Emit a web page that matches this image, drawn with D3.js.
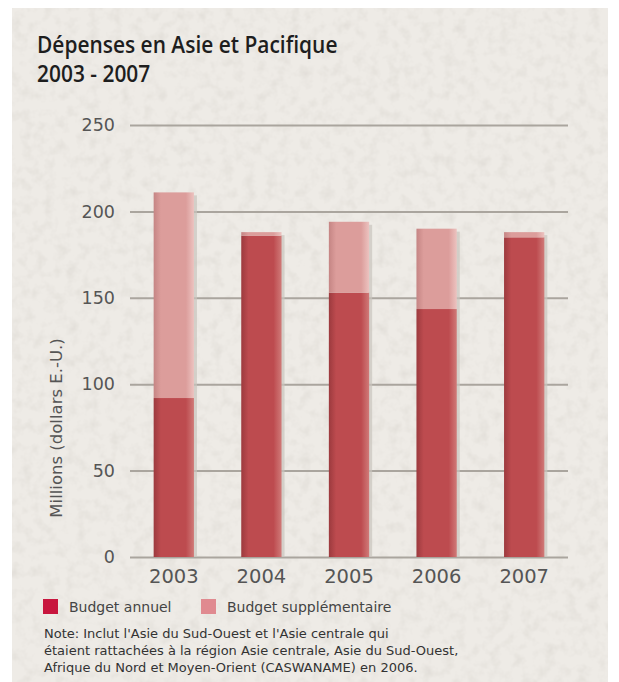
<!DOCTYPE html>
<html><head><meta charset="utf-8">
<script src="https://cdn.jsdelivr.net/npm/d3@7/dist/d3.min.js"></script>
<style>body{margin:0;background:#fff}svg{display:block}</style>
</head><body>
<svg id="c" width="619" height="682"></svg>
<script>
const years = ["2003","2004","2005","2006","2007"];
const annual = [92, 186, 153, 143.5, 185];
const supplementary = [119, 2, 41, 46.5, 3];
const yTicks = [0, 50, 100, 150, 200, 250];
const titleLines = ["Dépenses en Asie et Pacifique", "2003 - 2007"];
const legendLabels = ["Budget annuel", "Budget supplémentaire"];
const noteLines = [
  "Note: Inclut l'Asie du Sud-Ouest et l'Asie centrale qui",
  "étaient rattachées à la région Asie centrale, Asie du Sud-Ouest,",
  "Afrique du Nord et Moyen-Orient (CASWANAME) en 2006."
];

const svg = d3.select("#c");
const defs = svg.append("defs");
const FONT = "DejaVu Sans, Verdana, sans-serif";

// paper texture
const f = defs.append("filter").attr("id","paper").attr("x",0).attr("y",0).attr("width","100%").attr("height","100%");
f.append("feTurbulence").attr("type","fractalNoise").attr("baseFrequency",0.09).attr("numOctaves",3).attr("seed",4).attr("result","n");
f.append("feColorMatrix").attr("in","n").attr("type","matrix")
 .attr("values","0 0 0 0 0.6  0 0 0 0 0.57  0 0 0 0 0.53  0 0 0 -0.7 0.4").attr("result","c");
f.append("feComposite").attr("in","c").attr("in2","SourceGraphic").attr("operator","atop");

svg.append("rect").attr("x",12).attr("y",8).attr("width",596).attr("height",674)
  .attr("fill","#eeebe6").attr("filter","url(#paper)");

// gradients for bars
function grad(id, dark, mid, light){
  const g = defs.append("linearGradient").attr("id",id).attr("x1",0).attr("x2",1).attr("y1",0).attr("y2",0);
  g.append("stop").attr("offset","0%").attr("stop-color",dark);
  g.append("stop").attr("offset","18%").attr("stop-color",mid);
  g.append("stop").attr("offset","80%").attr("stop-color",mid);
  g.append("stop").attr("offset","100%").attr("stop-color",light);
}
grad("gA","#9c3a3e","#bd4b4f","#d07a78");
grad("gS","#c58584","#dc9d9b","#ecc3c0");

const m = {left:130, right:568, top:125, bottom:557};
const x = d3.scaleBand().domain(years).range([m.left, m.right]).paddingInner(0.54).paddingOuter(0.27);
const y = d3.scaleLinear().domain([0,250]).range([m.bottom, m.top]);

// grid lines
const yAxis = d3.axisLeft(y).tickValues(yTicks).tickSize(-(m.right-m.left)).tickPadding(15);
const ga = svg.append("g").attr("transform",`translate(${m.left},0)`).call(yAxis);
ga.select(".domain").remove();
ga.selectAll(".tick line").attr("stroke","#aaa59e").attr("stroke-width",2);
ga.selectAll(".tick text").attr("font-family",FONT)
  .attr("font-size",17.5).attr("fill","#555");

// bars
const bw = x.bandwidth();
const gb = svg.append("g");
years.forEach((yr,i)=>{
  const x0 = x(yr);
  const total = annual[i] + supplementary[i];
  gb.append("rect").attr("x",x0+bw-1).attr("y",y(total)+3).attr("width",4)
    .attr("height",y(0)-y(total)-3).attr("fill","#c9c4bd").attr("opacity",0.7);
  gb.append("rect").attr("x",x0).attr("y",y(annual[i])).attr("width",bw)
    .attr("height",y(0)-y(annual[i])).attr("fill","url(#gA)");
  gb.append("rect").attr("x",x0).attr("y",y(total)).attr("width",bw)
    .attr("height",y(annual[i])-y(total)).attr("fill","url(#gS)");
});

// x labels
const xa = svg.append("g").attr("transform",`translate(0,${m.bottom})`)
  .call(d3.axisBottom(x).tickSize(0).tickPadding(12));
xa.select(".domain").remove();
xa.selectAll("text").attr("font-family",FONT)
  .attr("font-size",19.5).attr("fill","#555");

// y axis title
svg.append("text").attr("transform","translate(62,428) rotate(-90)")
  .attr("text-anchor","middle").attr("font-family",FONT)
  .attr("font-size",16.5).attr("fill","#555").text("Millions (dollars E.-U.)");

// title (slightly condensed)
svg.append("g").attr("transform","translate(37,0) scale(0.93,1)")
  .selectAll("text").data(titleLines).join("text")
  .attr("x",0).attr("y",(d,i)=>53+i*29)
  .attr("font-family","Open Sans, sans-serif").attr("font-weight",600)
  .attr("font-size",22.5).attr("fill","#1e1e1e").text(d=>d);

// legend
const legColors = ["#c8163e","#e08a90"];
const legX = [43, 201];
legendLabels.forEach((l,i)=>{
  svg.append("rect").attr("x",legX[i]).attr("y",599).attr("width",15).attr("height",15).attr("fill",legColors[i]);
  svg.append("text").attr("x",legX[i]+26).attr("y",612)
    .attr("font-family",FONT).attr("font-size",14)
    .attr("fill","#444").text(l);
});

// note
svg.append("g").selectAll("text").data(noteLines).join("text")
  .attr("x",44).attr("y",(d,i)=>638+i*17)
  .attr("font-family",FONT).attr("font-size",13)
  .attr("fill","#333").text(d=>d);
</script>
</body></html>
